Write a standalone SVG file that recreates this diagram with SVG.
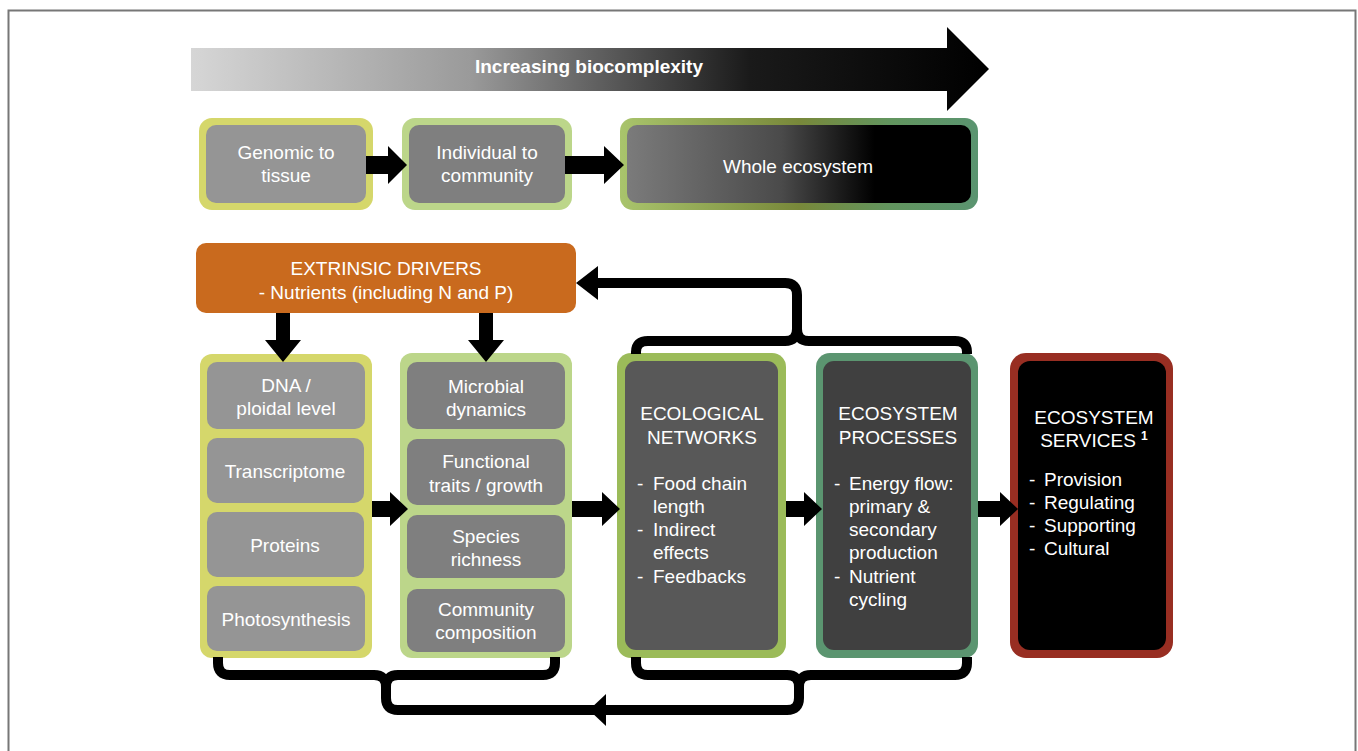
<svg xmlns="http://www.w3.org/2000/svg" width="1358" height="751" viewBox="0 0 1358 751">
<defs>
<linearGradient id="topArrow" gradientUnits="userSpaceOnUse" x1="191" y1="0" x2="989" y2="0">
<stop offset="0" stop-color="#d6d6d6"/>
<stop offset="0.35" stop-color="#9a9a9a"/>
<stop offset="0.7" stop-color="#1a1a1a"/>
<stop offset="1" stop-color="#000"/>
</linearGradient>
<linearGradient id="wholeBorder" gradientUnits="userSpaceOnUse" x1="620" y1="0" x2="978" y2="0">
<stop offset="0" stop-color="#a9c46c"/>
<stop offset="0.5" stop-color="#78883a"/>
<stop offset="0.75" stop-color="#62955e"/>
<stop offset="1" stop-color="#5a9470"/>
</linearGradient>
<linearGradient id="wholeFill" gradientUnits="userSpaceOnUse" x1="627" y1="0" x2="971" y2="0">
<stop offset="0" stop-color="#7b7b7b"/>
<stop offset="0.45" stop-color="#4a4a4a"/>
<stop offset="0.72" stop-color="#000"/>
<stop offset="1" stop-color="#000"/>
</linearGradient>
</defs>
<style>
text{font-family:"Liberation Sans",Arial,Helvetica,sans-serif;font-size:19px;fill:#fff}
.c{text-anchor:middle}
.b{font-weight:bold}
.ln{fill:none;stroke:#000;stroke-width:10;stroke-linejoin:round;stroke-linecap:butt}
.ah{fill:#000}
</style>
<rect x="8.5" y="10.5" width="1347" height="780" fill="none" stroke="#777" stroke-width="2"/>

<g id="biocomplexity-arrow">
<polygon points="191,48 947,48 947,27 989,69 947,111 947,91 191,91" fill="url(#topArrow)"/>
<text class="c b" x="589" y="73">Increasing biocomplexity</text>
</g>

<g id="genomic-to-tissue">
<rect x="199" y="118" width="174" height="92" rx="13" fill="#d5d76b"/>
<rect x="206" y="125" width="160" height="78" rx="10" fill="#959595"/>
<text class="c" x="286" y="159">Genomic to</text>
<text class="c" x="286" y="182">tissue</text>
</g>

<g id="individual-to-community">
<rect x="402" y="118" width="170" height="92" rx="13" fill="#bcd68a"/>
<rect x="409" y="125" width="156" height="78" rx="10" fill="#7f7f7f"/>
<text class="c" x="487" y="159">Individual to</text>
<text class="c" x="487" y="182">community</text>
</g>

<g id="whole-ecosystem">
<rect x="620" y="118" width="358" height="92" rx="13" fill="url(#wholeBorder)"/>
<rect x="627" y="125" width="344" height="78" rx="10" fill="url(#wholeFill)"/>
<text class="c" x="798" y="173">Whole ecosystem</text>
</g>

<g id="extrinsic-drivers">
<rect x="196" y="243" width="380" height="70" rx="10" fill="#c96a1e"/>
<text class="c" x="386" y="275">EXTRINSIC DRIVERS</text>
<text class="c" x="386" y="299">- Nutrients (including N and P)</text>
</g>

<g id="genomic-column">
<rect x="200" y="354" width="172" height="304" rx="12" fill="#d5d76b"/>
<g id="dna">
<rect x="207" y="362" width="158" height="67" rx="10" fill="#959595"/>
<text class="c" x="286" y="392">DNA /</text>
<text class="c" x="286" y="415">ploidal level</text>
</g>
<g id="transcriptome">
<rect x="207" y="438" width="157" height="65" rx="10" fill="#959595"/>
<text class="c" x="285" y="478">Transcriptome</text>
</g>
<g id="proteins">
<rect x="207" y="512" width="157" height="65" rx="10" fill="#959595"/>
<text class="c" x="285" y="552">Proteins</text>
</g>
<g id="photosynthesis">
<rect x="207" y="586" width="158" height="65" rx="10" fill="#959595"/>
<text class="c" x="286" y="626">Photosynthesis</text>
</g>
</g>

<g id="community-column">
<rect x="400" y="353" width="172" height="305" rx="12" fill="#bcd68a"/>
<g id="microbial">
<rect x="407" y="362" width="158" height="67" rx="10" fill="#7f7f7f"/>
<text class="c" x="486" y="393">Microbial</text>
<text class="c" x="486" y="416">dynamics</text>
</g>
<g id="functional">
<rect x="407" y="439" width="158" height="66" rx="10" fill="#7f7f7f"/>
<text class="c" x="486" y="468">Functional</text>
<text class="c" x="486" y="492">traits / growth</text>
</g>
<g id="species">
<rect x="407" y="515" width="158" height="63" rx="10" fill="#7f7f7f"/>
<text class="c" x="486" y="543">Species</text>
<text class="c" x="486" y="566">richness</text>
</g>
<g id="composition">
<rect x="407" y="589" width="158" height="63" rx="10" fill="#7f7f7f"/>
<text class="c" x="486" y="616">Community</text>
<text class="c" x="486" y="639">composition</text>
</g>
</g>

<g id="ecological-networks">
<rect x="617" y="353" width="169" height="305" rx="14" fill="#9bbb59"/>
<rect x="625" y="361" width="153" height="289" rx="11" fill="#585858"/>
<text class="c" x="702" y="420">ECOLOGICAL</text>
<text class="c" x="702" y="444">NETWORKS</text>
<text x="637" y="490">-</text><text x="653" y="490">Food chain</text>
<text x="653" y="513">length</text>
<text x="637" y="536">-</text><text x="653" y="536">Indirect</text>
<text x="653" y="559">effects</text>
<text x="637" y="583">-</text><text x="653" y="583">Feedbacks</text>
</g>

<g id="ecosystem-processes">
<rect x="816" y="353" width="162" height="305" rx="14" fill="#5b9570"/>
<rect x="823" y="361" width="148" height="289" rx="11" fill="#404040"/>
<text class="c" x="898" y="420">ECOSYSTEM</text>
<text class="c" x="898" y="444">PROCESSES</text>
<text x="834" y="490">-</text><text x="849" y="490">Energy flow:</text>
<text x="849" y="513">primary &amp;</text>
<text x="849" y="536">secondary</text>
<text x="849" y="559">production</text>
<text x="834" y="583">-</text><text x="849" y="583">Nutrient</text>
<text x="849" y="606">cycling</text>
</g>

<g id="ecosystem-services">
<rect x="1010" y="353" width="163" height="305" rx="16" fill="#982e22"/>
<rect x="1018" y="361" width="148" height="289" rx="12" fill="#000"/>
<text class="c" x="1094" y="424">ECOSYSTEM</text>
<text class="c" x="1088" y="447">SERVICES</text>
<text x="1141" y="440" style="font-size:12px;font-weight:bold">1</text>
<text x="1029" y="486">-</text><text x="1044" y="486">Provision</text>
<text x="1029" y="509">-</text><text x="1044" y="509">Regulating</text>
<text x="1029" y="532">-</text><text x="1044" y="532">Supporting</text>
<text x="1029" y="555">-</text><text x="1044" y="555">Cultural</text>
</g>

<g id="connectors">
<polygon class="ah" points="366,156 388,156 388,146 407,165 388,184 388,174 366,174"/>
<polygon class="ah" points="565,156 604,156 604,146 624,165 604,184 604,174 565,174"/>
<polygon class="ah" points="276,313 290,313 290,340 301,340 283,362 265,340 276,340"/>
<polygon class="ah" points="479,313 493,313 493,340 504,340 486,362 468,340 479,340"/>
<polygon class="ah" points="372,501 390,501 390,492 408,509 390,526 390,517 372,517"/>
<polygon class="ah" points="572,501 602,501 602,492 620,509 602,526 602,517 572,517"/>
<polygon class="ah" points="786,501 804,501 804,492 822,509 804,526 804,517 786,517"/>
<polygon class="ah" points="978,501 1000,501 1000,492 1018,509 1000,526 1000,517 978,517"/>
<path class="ln" d="M636,354 L636,352 Q636,341 648,341 L785,341 Q797,341 797,329 L797,295 Q797,283 785,283 L596,283"/>
<path class="ln" d="M967,354 L967,352 Q967,341 955,341 L809,341 Q797,341 797,329"/>
<polygon class="ah" points="576,283 598,266 598,300"/>
<path class="ln" d="M218,657 L218,663 Q218,675 230,675 L374,675 Q386,675 386,687 L386,698 Q386,710 398,710 L787,710 Q799,710 799,698 L799,687 Q799,675 811,675 L955,675 Q967,675 967,663 L967,657"/>
<path class="ln" d="M386,687 Q386,675 398,675 L543,675 Q555,675 555,663 L555,657"/>
<path class="ln" d="M799,687 Q799,675 787,675 L648,675 Q636,675 636,663 L636,657"/>
<polygon class="ah" points="589,710 606,694 606,726"/>
</g>
</svg>
